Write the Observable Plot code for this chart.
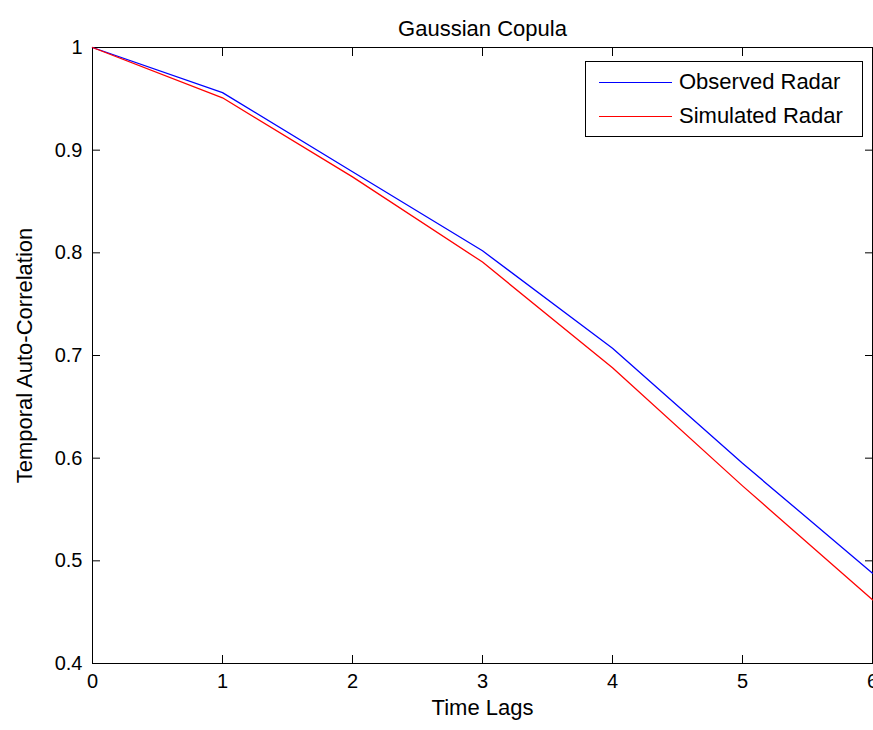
<!DOCTYPE html>
<html>
<head>
<meta charset="utf-8">
<script src="https://cdn.jsdelivr.net/npm/d3@7"></script>
<script src="https://cdn.jsdelivr.net/npm/@observablehq/plot@0.6"></script>
<style>
  body { margin: 0; background: #fff; }
  #wrap { position: relative; width: 873px; height: 730px; font-family: "Liberation Sans", Arial, sans-serif; }
  #legend { position: absolute; left: 585px; top: 61px; width: 276px; height: 74px; border: 1px solid #000; background: #fff; }
  .row { position: absolute; left: 0; height: 24px; }
  .swatch { position: absolute; left: 13px; width: 73px; height: 0; border-top: 1.5px solid; }
  .lab { position: absolute; left: 93px; font-size: 22px; color: #000; line-height: 24px; white-space: nowrap; }
</style>
</head>
<body>
<div id="wrap"></div>
<script>
const lags = [0, 1, 2, 3, 4, 5, 6];
const observed = [1, 0.956, 0.879, 0.802, 0.707, 0.595, 0.488];
const simulated = [1, 0.951, 0.874, 0.791, 0.688, 0.573, 0.462];
const seriesNames = ["Observed Radar", "Simulated Radar"];
const seriesColors = ["#0000ff", "#ff0000"];
const xTicks = [0, 1, 2, 3, 4, 5, 6];
const yTicks = [0.4, 0.5, 0.6, 0.7, 0.8, 0.9, 1];
const titleText = "Gaussian Copula";
const xLabel = "Time Lags";
const yLabel = "Temporal Auto-Correlation";

const obsData = lags.map((x, i) => ({x, y: observed[i]}));
const simData = lags.map((x, i) => ({x, y: simulated[i]}));
const fmt = d => String(+d.toFixed(2));
const FS = 22;
const TFS = 20;

const chart = Plot.plot({
  width: 873,
  height: 730,
  marginLeft: 92,
  marginRight: 1,
  marginTop: 47,
  marginBottom: 67,
  style: {fontFamily: '"Liberation Sans", Arial, sans-serif', fontSize: TFS + "px", background: "#fff", color: "#000"},
  x: {domain: [0, 6]},
  y: {domain: [0.4, 1]},
  marks: [
    Plot.frame({stroke: "#000", strokeWidth: 1}),
    // inward ticks (all four sides)
    Plot.axisX({anchor: "bottom", ticks: xTicks, tickSize: 8, dy: -8, tickFormat: () => "", label: null}),
    Plot.axisX({anchor: "top", ticks: xTicks, tickSize: 8, dy: 8, tickFormat: () => "", label: null}),
    Plot.axisY({anchor: "left", ticks: yTicks, tickSize: 8, dx: 8, tickFormat: () => "", label: null}),
    Plot.axisY({anchor: "right", ticks: yTicks, tickSize: 8, dx: -8, tickFormat: () => "", label: null}),
    // tick labels
    Plot.axisX({anchor: "bottom", ticks: xTicks, tickSize: 0, tickPadding: 10, tickFormat: fmt, label: null, fontSize: TFS}),
    Plot.axisY({anchor: "left", ticks: yTicks, tickSize: 0, tickPadding: 10, tickFormat: fmt, label: null, fontSize: TFS}),
    Plot.line(obsData, {x: "x", y: "y", stroke: seriesColors[0], strokeWidth: 1.3}),
    Plot.line(simData, {x: "x", y: "y", stroke: seriesColors[1], strokeWidth: 1.3}),
    Plot.text([titleText], {text: d => d, frameAnchor: "top", textAnchor: "middle", dy: -27, fontSize: FS}),
    Plot.text([xLabel], {text: d => d, frameAnchor: "bottom", textAnchor: "middle", dy: 51, fontSize: FS}),
    Plot.text([yLabel], {text: d => d, frameAnchor: "left", textAnchor: "middle", dx: -68, rotate: -90, fontSize: FS})
  ]
});

const wrap = document.getElementById("wrap");
wrap.appendChild(chart);

const legend = document.createElement("div");
legend.id = "legend";
seriesNames.forEach((name, i) => {
  const row = document.createElement("div");
  row.className = "row";
  row.style.top = (8 + i * 34) + "px";
  row.style.width = "100%";
  const sw = document.createElement("div");
  sw.className = "swatch";
  sw.style.borderTopColor = seriesColors[i];
  sw.style.top = "12px";
  const lab = document.createElement("div");
  lab.className = "lab";
  lab.textContent = name;
  row.appendChild(sw);
  row.appendChild(lab);
  legend.appendChild(row);
});
wrap.appendChild(legend);
</script>
</body>
</html>
